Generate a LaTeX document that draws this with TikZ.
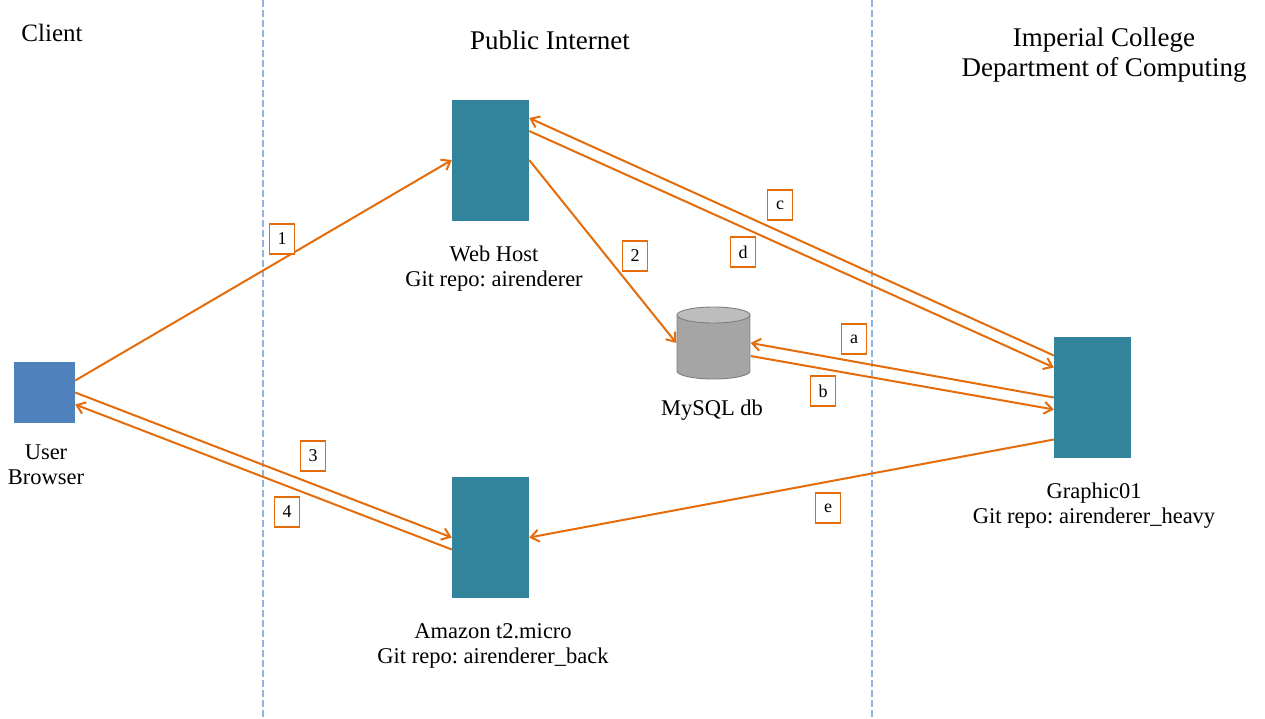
\documentclass[tikz,border=0pt]{standalone}
\usepackage{fontspec}
\setmainfont{Liberation Serif}
\frenchspacing
\usetikzlibrary{arrows.meta}
\definecolor{orng}{HTML}{E46C0A}
\definecolor{srvteal}{HTML}{31849B}
\definecolor{brblue}{HTML}{4F81BD}
\definecolor{dashblue}{HTML}{8EB4E3}
\definecolor{dbgray}{HTML}{A5A5A5}
\definecolor{dbtop}{HTML}{BDBDBD}
\definecolor{dbedge}{HTML}{7F7F7F}
\tikzset{
  server/.style={fill=srvteal, minimum width=77pt, minimum height=121pt, inner sep=0},
  browser/.style={fill=brblue, minimum width=61pt, minimum height=61pt, inner sep=0},
  txt/.style={align=center, font=\fontsize{22.5}{25}\selectfont, inner sep=0},
  title/.style={align=center, font=\fontsize{27}{30}\selectfont, inner sep=0},
  lbl/.style={draw=orng, fill=white, line width=1.2pt, minimum width=25pt, minimum height=30pt, inner sep=0, font=\fontsize{18}{20}\selectfont},
  conn/.style={draw=orng, line width=2pt, -{Straight Barb[length=8pt,width=12pt]}},
  zone/.style={draw=dashblue, line width=2.5pt, dash pattern=on 7pt off 3pt},
  dbshape/.style={draw=dbedge, line width=0.9pt},
}
\begin{document}
\begin{tikzpicture}[x=1pt,y=-1pt]
\useasboundingbox (0,0) rectangle (1265,718);
% zone separators
\coordinate (z1t) at (263,0); \coordinate (z1b) at (263,718);
\coordinate (z2t) at (872,0); \coordinate (z2b) at (872,718);
\draw[zone] (z1t) -- (z1b);
\draw[zone] (z2t) -- (z2b);
% titles
\node[title, font=\fontsize{25}{30}\selectfont] (tclient) at (52,33) {Client};
\node[title] (tpub) at (550,40) {Public Internet};
\node[title] (timp) at (1104,55) {Imperial College\\Department of Computing};
% nodes
\node[browser] (br) at (44.5,392.5) {};
\node[txt] (brl) at (46,464.5) {User\\Browser};
\node[server] (web) at (490.5,160) {};
\node[txt] (webl) at (494,269) {Web Host\\Git repo: airenderer};
\node[server] (amz) at (490.5,537.5) {};
\node[txt] (amzl) at (493,645.5) {Amazon t2.micro\\Git repo: airenderer\_back};
\node[server] (gr) at (1092.5,397.5) {};
\node[txt] (grl) at (1094,505.5) {Graphic01\\Git repo: airenderer\_heavy};
% database cylinder
\node[minimum width=74pt, minimum height=74pt, inner sep=0] (db) at (713.5,343) {};
\fill[dbgray] (677,315) rectangle (750,371);
\fill[dbgray] (713.5,371) ellipse [x radius=36.5pt, y radius=8pt];
\draw[dbshape] (677,315) -- (677,371) arc[start angle=180, end angle=0, x radius=36.5, y radius=8] -- (750,315);
\draw[dbshape, fill=dbtop] (713.5,315) ellipse [x radius=36.5pt, y radius=8pt];
\node[txt] (dbl) at (712,410) {MySQL db};
% connectors
\draw[conn] ([yshift=12pt]br.east) -- (web.west);
\draw[conn] (web.east) -- (db.west);
\draw[conn] ([yshift=42pt]gr.west) -- ([yshift=42pt]web.east);
\draw[conn] ([yshift=29pt]web.east) -- ([yshift=30pt]gr.west);
\draw[conn] (gr.west) -- (db.east);
\draw[conn] ([yshift=-13pt]db.east) -- ([yshift=-12pt]gr.west);
\draw[conn] (br.east) -- (amz.west);
\draw[conn] ([yshift=-12pt]amz.west) -- ([yshift=-12pt]br.east);
\draw[conn] ([yshift=-42pt]gr.west) -- (amz.east);
% labels
\node[lbl] (l1) at (282,239) {1};
\node[lbl] (l2) at (635,256) {2};
\node[lbl] (lc) at (780,205) {c};
\node[lbl] (ld) at (743,252) {d};
\node[lbl] (la) at (854,339) {a};
\node[lbl] (lb) at (823,391) {b};
\node[lbl] (l3) at (313,456) {3};
\node[lbl] (l4) at (287,512) {4};
\node[lbl] (le) at (828,508) {e};
\end{tikzpicture}
\end{document}
